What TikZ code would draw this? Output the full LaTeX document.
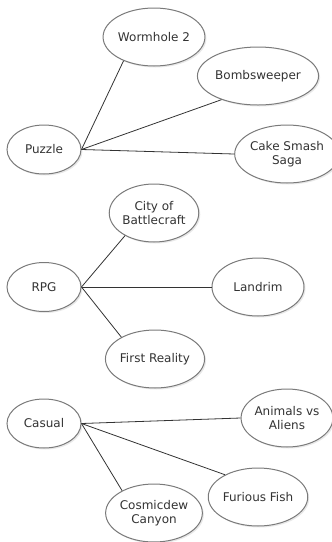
\documentclass[tikz,border=0pt]{standalone}
\usepackage{fontspec}
\setmainfont{DejaVu Sans}
\usetikzlibrary{shapes.geometric,shadows}
\definecolor{inkgray}{HTML}{333333}
\definecolor{rimgray}{HTML}{7A7A7A}
\tikzset{
  px/.style={x=1pt,y=-1pt},
  game/.style={ellipse, draw=rimgray, line width=1pt, fill=white,
    inner sep=0pt, text=inkgray, align=center,
    font=\fontsize{12}{14.5}\selectfont,
    drop shadow={shadow xshift=1.5pt, shadow yshift=-1.5pt, opacity=0.18}},
  genre/.style={game, minimum width=74pt, minimum height=49pt},
  leaf/.style={game, minimum width=90pt, minimum height=58pt},
  smallleaf/.style={game, minimum width=82pt, minimum height=58pt},
  link/.style={draw=inkgray, line width=0.8pt}
}
\begin{document}
\begin{tikzpicture}[px]
  \useasboundingbox (0,0) rectangle (332,542);

  % Puzzle branch
  \node[genre]     (puzzle)  at (44,149.5) {Puzzle};
  \node[smallleaf] (worm)    at (154,37)   {Wormhole 2};
  \node[leaf, minimum width=92pt] (bomb) at (258,76) {Bombsweeper};
  \node[leaf]      (cake)    at (287,154)  {Cake Smash\\Saga};

  % RPG branch
  \node[genre]     (rpg)     at (44,287)   {RPG};
  \node[smallleaf] (city)    at (154,213)  {City of\\Battlecraft};
  \node[leaf, minimum width=92pt] (landrim) at (258,287) {Landrim};
  \node[leaf]      (first)   at (155,359)  {First Reality};

  % Casual branch
  \node[genre]     (casual)  at (44,423.5) {Casual};
  \node[leaf]      (animals) at (287,418)  {Animals vs\\Aliens};
  \node[leaf, minimum width=92pt] (fish) at (258,497) {Furious Fish};
  \node[smallleaf] (cosmic)  at (154,513)  {Cosmicdew\\Canyon};

  % connectors
  \draw[link] (puzzle.east) -- (worm.218);
  \draw[link] (puzzle.east) -- (bomb.213);
  \draw[link] (puzzle.east) -- (cake.west);

  \draw[link] (rpg.east) -- (city.218);
  \draw[link] (rpg.east) -- (landrim.west);
  \draw[link] (rpg.east) -- (first.147);

  \draw[link] (casual.east) -- (animals.west);
  \draw[link] (casual.east) -- (fish.146);
  \draw[link] (casual.east) -- (cosmic.145);
\end{tikzpicture}
\end{document}
